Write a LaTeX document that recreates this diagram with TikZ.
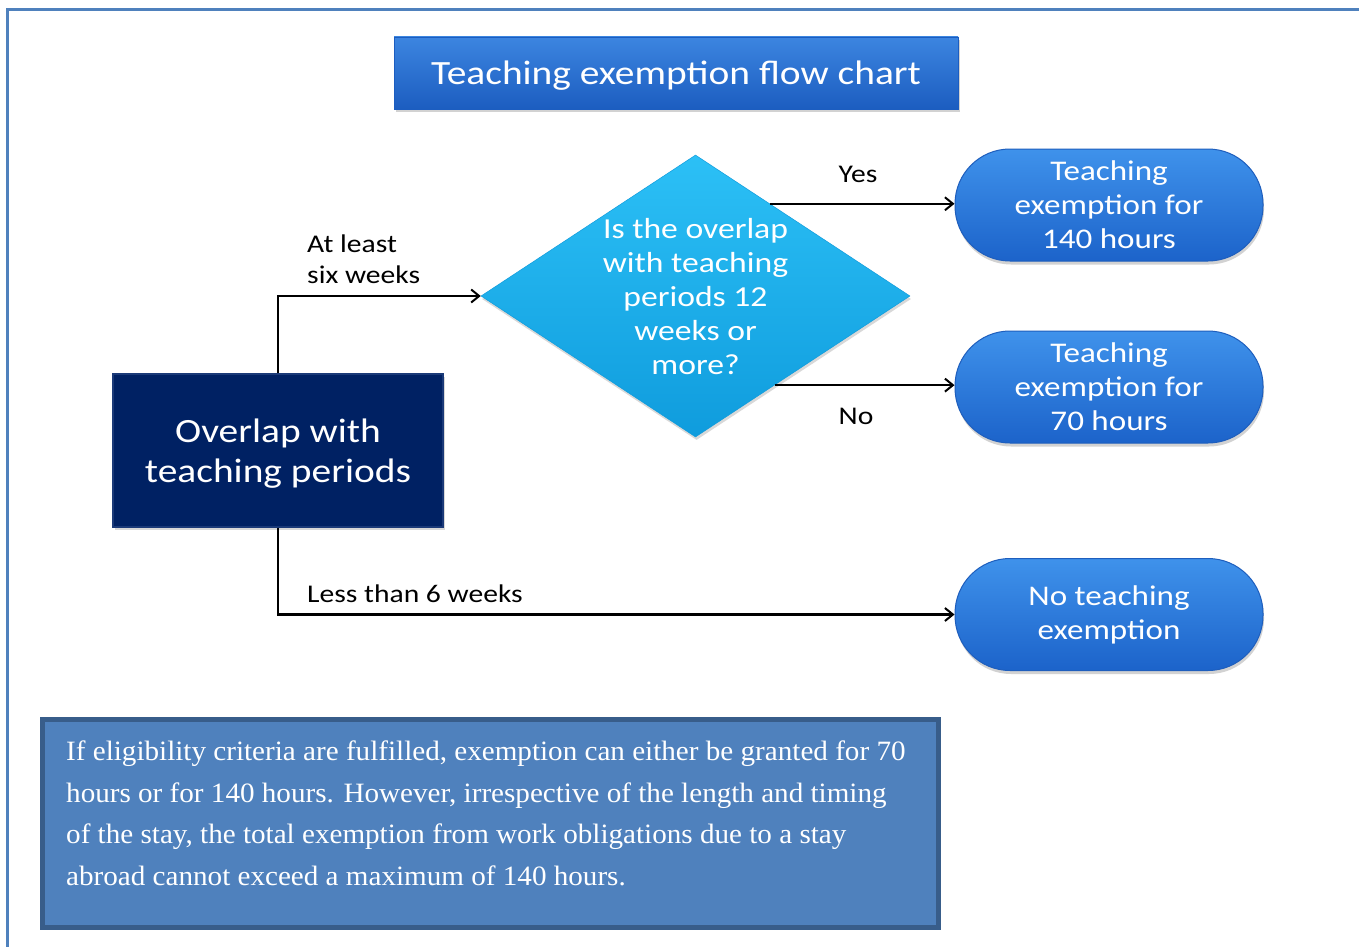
\documentclass[tikz,border=0pt]{standalone}
\usepackage{fontspec}
\setmainfont[FakeStretch=1.16]{Carlito}
\newfontfamily\notefont[FakeStretch=1.04]{Liberation Serif}
\usetikzlibrary{shapes.geometric,arrows.meta,shadows,calc}
\definecolor{frameblue}{HTML}{4F81BD}
\definecolor{titletop}{HTML}{3C85E0}
\definecolor{titlebot}{HTML}{1C5DC0}
\definecolor{navy}{HTML}{002163}
\definecolor{navyedge}{HTML}{1B3A78}
\definecolor{cyantop}{HTML}{2CC0F6}
\definecolor{cyanbot}{HTML}{0F9CDD}
\definecolor{pilltop}{HTML}{3F92EB}
\definecolor{pillbot}{HTML}{1C63CA}
\definecolor{pilledge}{HTML}{1E5EBD}
\definecolor{notefill}{HTML}{4F81BD}
\definecolor{noteedge}{HTML}{385D8A}
\tikzset{
  titlebox/.style={rectangle, minimum width=564pt, minimum height=72pt, inner sep=0pt,
    top color=titletop, bottom color=titlebot, draw=titlebot, line width=0.6pt,
    drop shadow={shadow xshift=1.5pt, shadow yshift=-3pt, opacity=0.35},
    text=white, text depth=0pt, font=\fontsize{34}{40}\selectfont},
  navybox/.style={rectangle, minimum width=330pt, minimum height=153pt, inner sep=0pt,
    fill=navy, draw=navyedge, line width=1.2pt,
    drop shadow={shadow xshift=1.5pt, shadow yshift=-3pt, opacity=0.3},
    text=white, align=center, font=\fontsize{34}{40}\selectfont},
  decision/.style={diamond, minimum width=429pt, minimum height=282pt, inner sep=0pt,
    top color=cyantop, bottom color=cyanbot, draw=cyanbot, line width=0.5pt,
    drop shadow={shadow xshift=1pt, shadow yshift=-3pt, opacity=0.3}},
  dtext/.style={text=white, align=center, inner sep=0pt, font=\fontsize{29}{34}\selectfont},
  pill/.style={rectangle, rounded corners=55pt, minimum width=308pt, minimum height=112pt,
    inner sep=0pt, top color=pilltop, bottom color=pillbot, draw=pilledge, line width=1pt,
    drop shadow={shadow xshift=1pt, shadow yshift=-3.5pt, opacity=0.35},
    text=white, align=center, font=\fontsize{28.5}{34}\selectfont},
  lbl/.style={inner sep=0pt, align=left, font=\fontsize{25.5}{31}\selectfont},
  conn/.style={line width=2.3pt, -{Straight Barb[length=8pt,width=13pt,line width=2pt]}},
  notebox/.style={rectangle, minimum width=896pt, minimum height=208pt, inner sep=0pt,
    fill=notefill, draw=noteedge, line width=5pt},
  notetext/.style={text=white, align=left, inner sep=0pt, anchor=north west,
    font=\notefont\fontsize{28}{41.5}\selectfont}
}
\begin{document}
\begin{tikzpicture}[x=1pt,y=-1pt]
\useasboundingbox (0,0) rectangle (1359,947);
\fill[white] (0,0) rectangle (1359,947);
% outer frame (only top and left visible)
\draw[frameblue, line width=2.5pt] (7.5,960) -- (7.5,9.5) -- (1370,9.5);

\node[titlebox] (title) at (676,73) {Teaching exemption flow chart};

\node[navybox] (ov) at (278,450.5) {};
\node[text=white, align=center, inner sep=0pt, font=\fontsize{34}{40}\selectfont] (ovt) at (278,454) {Overlap with\\teaching periods};

\node[decision] (q) at (695.5,296) {};
\node[dtext] (qt) at (695.5,296.5) {Is the overlap\\with teaching\\periods 12\\weeks or\\more?};

\node[pill] (t1) at (1109,205) {Teaching\\exemption for\\140 hours};
\node[pill] (t2) at (1109,387) {Teaching\\exemption for\\70 hours};
\node[pill] (t3) at (1109,614.5) {No teaching\\exemption};

\coordinate (ys) at ($(q.north)!0.347!(q.east)$);
\coordinate (ns) at ($(q.east)!0.631!(q.south)$);

\draw[conn] (ov.north) |- (q.west);
\draw[conn] (ov.south) |- (t3.west);
\draw[conn] (ys) -- (ys -| t1.west);
\draw[conn] (ns) -- (ns -| t2.west);

\node[lbl, anchor=west] (l1) at (307,259) {At least\\six weeks};
\node[lbl, anchor=west] (l2) at (307,594) {Less than 6 weeks};
\node[lbl] (l3) at (858,174) {Yes};
\node[lbl] (l4) at (856,416) {No};

\node[notebox] (note) at (490,823) {};
\node[notetext] (nt) at (66,741) {If eligibility criteria are fulfilled, exemption can either be granted for 70\\hours or for 140 hours. However, irrespective of the length and timing\\of the stay, the total exemption from work obligations due to a stay\\abroad cannot exceed a maximum of 140 hours.};
\end{tikzpicture}
\end{document}
